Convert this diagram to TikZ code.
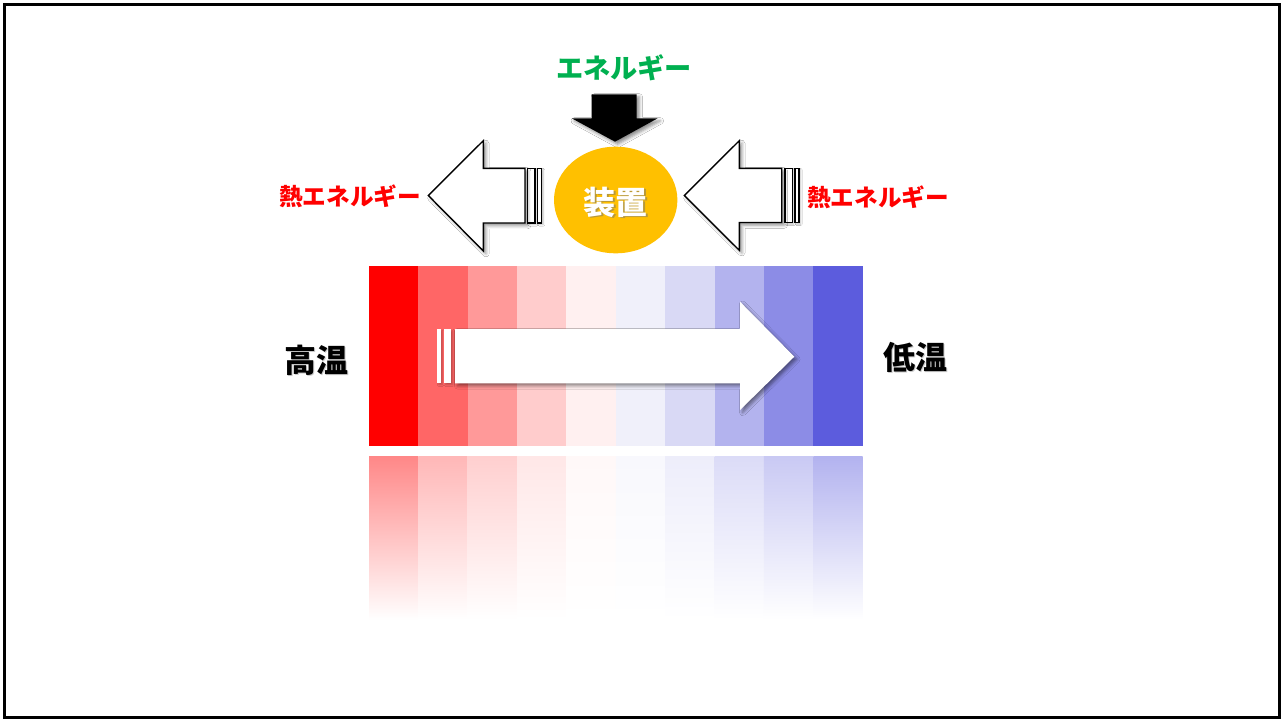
\documentclass[tikz,border=0pt]{standalone}
\usepackage{fontspec}
\newfontfamily\jp{Noto Sans CJK JP}
\usetikzlibrary{shapes.geometric,shadows.blur}
\definecolor{c1}{HTML}{FF0000}
\definecolor{c2}{HTML}{FF6666}
\definecolor{c3}{HTML}{FF9999}
\definecolor{c4}{HTML}{FFCCCC}
\definecolor{c5}{HTML}{FFF0F0}
\definecolor{c6}{HTML}{F0F0FA}
\definecolor{c7}{HTML}{D9D9F5}
\definecolor{c8}{HTML}{B3B3EE}
\definecolor{c9}{HTML}{8C8CE6}
\definecolor{c10}{HTML}{5C5CDD}
\definecolor{gold}{HTML}{FFC000}
\definecolor{egreen}{HTML}{00B050}
\tikzset{
  lbl/.style={font=\jp\bfseries, inner sep=0pt},
  shd/.style={blur shadow={shadow xshift=1.3pt, shadow yshift=-1.3pt, shadow blur radius=1.6pt, shadow opacity=45}},
  lightshd/.style={blur shadow={shadow xshift=0.8pt, shadow yshift=-0.8pt, shadow blur radius=0.8pt, shadow opacity=25}},
  hollow/.style={draw=black, line width=0.7pt, fill=white, shd},
  hollowstripe/.style={draw=black, line width=0.6pt, fill=white, lightshd},
  whitearrow/.style={fill=white, shd},
  whitestripe/.style={fill=white, lightshd},
}
\begin{document}
\begin{tikzpicture}[x=0.5pt,y=-0.5pt]
\useasboundingbox (0,0) rectangle (1284,722);
\fill[white] (0,0) rectangle (1284,722);
\draw[line width=1.5pt] (4.5,4.5) rectangle (1279.5,717.5);

% temperature columns
\foreach \i/\c in {0/c1,1/c2,2/c3,3/c4,4/c5,5/c6,6/c7,7/c8,8/c9,9/c10}{
  \fill[\c] (369+\i*49.37,266) rectangle +(49.37,179.7);
  \shade[top color=\c!47!white, bottom color=white] (369+\i*49.37,456) rectangle +(49.37,164);
}

% middle white striped arrow
\fill[whitestripe] (437.3,329) rectangle (440.7,383.3);
\fill[whitestripe] (444,329) rectangle (451.3,383.3);
\fill[whitearrow] (455,329) -- (740,329) -- (740,301.7) -- (794.3,356.7) -- (740,410) -- (740,383.3) -- (455,383.3) -- cycle;

% left hollow arrow
\draw[hollowstripe] (527.7,168.3) rectangle (535,223);
\draw[hollowstripe] (537.7,168.3) rectangle (541.7,223);
\draw[hollow] (428.3,195.5) -- (483.3,140.7) -- (483.3,168.3) -- (525,168.3) -- (525,223) -- (483.3,223) -- (483.3,251) -- cycle;

% right hollow arrow
\draw[hollowstripe] (785,168.3) rectangle (792.3,222.5);
\draw[hollowstripe] (795,168.3) rectangle (799,222.5);
\draw[hollow] (684.3,195.5) -- (739.3,140.7) -- (739.3,168.3) -- (781.7,168.3) -- (781.7,222.5) -- (739.3,222.5) -- (739.3,250.3) -- cycle;

% black down arrow
\fill[black, shd] (591.7,94.3) -- (636.7,94.3) -- (636.7,118.3) -- (657.7,118.3) -- (615,141.7) -- (571.7,118.3) -- (591.7,118.3) -- cycle;

% device ellipse
\node[ellipse, fill=gold, minimum width=61.7pt, minimum height=53.3pt, inner sep=0pt] (dev) at (615.7,200) {};
\node[lbl, font=\jp\bfseries\fontsize{16}{16}\selectfont, text=black!55, opacity=0.5] at (617.2,203.5) {装置};
\node[lbl, font=\jp\bfseries\fontsize{16}{16}\selectfont, text=white] (devlbl) at (615.7,202) {装置};

% labels
\node[lbl, font=\jp\bfseries\fontsize{13.6}{14}\selectfont, text=egreen] (energy) at (624,68) {エネルギー};
\node[lbl, font=\jp\bfseries\fontsize{11.8}{12}\selectfont, text=red] (heatL) at (350,196) {熱エネルギー};
\node[lbl, font=\jp\bfseries\fontsize{11.8}{12}\selectfont, text=red] (heatR) at (878,197) {熱エネルギー};
\node[lbl, font=\jp\bfseries\fontsize{16}{16}\selectfont, text=black!40, opacity=0.5] at (317.5,361.5) {高温};
\node[lbl, font=\jp\bfseries\fontsize{16}{16}\selectfont] (hot) at (316,360) {高温};
\node[lbl, font=\jp\bfseries\fontsize{16}{16}\selectfont, text=black!40, opacity=0.5] at (916.5,358.5) {低温};
\node[lbl, font=\jp\bfseries\fontsize{16}{16}\selectfont] (cold) at (915,357) {低温};
\end{tikzpicture}
\end{document}
